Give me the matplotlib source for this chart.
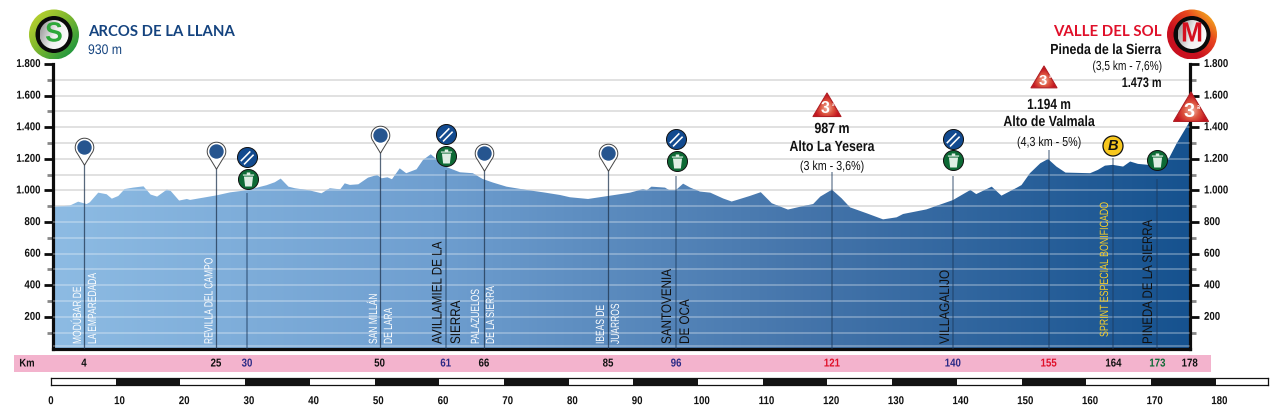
import numpy as np
import matplotlib
matplotlib.use("Agg")
import matplotlib.pyplot as plt
from matplotlib.colors import LinearSegmentedColormap as LSC
from matplotlib.patches import Circle, Polygon, Rectangle
from matplotlib.path import Path
from matplotlib.patheffects import AbstractPathEffect
from matplotlib.transforms import Affine2D

W, H = 1280, 415
BODY = ['Liberation Sans', 'DejaVu Sans']
HEAD = ['Lato', 'DejaVu Sans']
plt.rcParams['font.family'] = HEAD

# ---- data ----
profile_km = [0.3, 0.77, 2.9, 4.2, 5.5, 6.0, 7.3, 8.6, 9.4, 10.4, 11.4, 12.7, 14.3, 15.4, 16.4, 17.9, 18.5, 19.8,
              21.0, 21.5, 25.6, 27.7, 30.2, 33.3, 34.6, 35.5, 36.7, 37.7, 40.0, 41.8, 43.1, 44.7, 45.4, 46.2, 47.5,
              49.0, 50.4, 51.1, 52.0, 52.7, 53.9, 54.9, 56.5, 57.5, 58.7, 59.6, 61.2, 63.2, 65.2, 66.7, 68.3, 70.4,
              73.5, 76.1, 78.7, 80.2, 83.0, 86.1, 89.5, 91.5, 92.1, 92.8, 94.9, 95.5, 96.6, 97.7, 98.8, 100.3, 101.9,
              103.9, 105.2, 105.7, 108.0, 109.7, 111.4, 113.9, 115.8, 117.8, 118.9, 120.7, 122.2, 123.5, 126.1,
              128.6, 130.7, 131.7, 135.3, 139.4, 141.0, 142.1, 143.0, 145.4, 146.9, 149.3, 150.0, 151.3, 152.9,
              154.1, 155.4, 156.8, 160.6, 161.8, 162.9, 164.1, 165.7, 166.8, 168.0, 169.6, 171.0, 172.8, 174.0, 176.0]
profile_m = [896, 898, 904, 929, 914, 925, 986, 976, 948, 965, 1009, 1018, 1026, 974, 961, 1005, 997, 936,
             946, 940, 969, 988, 1001, 1033, 1052, 1075, 1024, 1014, 1000, 982, 1014, 1007, 1045, 1035, 1039,
             1081, 1098, 1077, 1083, 1071, 1140, 1109, 1134, 1193, 1229, 1197, 1147, 1115, 1109, 1073, 1050, 1024,
             1003, 988, 971, 957, 946, 965, 986, 1008, 1001, 1024, 1018, 1003, 1003, 1043, 1018, 993, 986,
             949, 930, 936, 965, 989, 919, 879, 897, 914, 961, 1005, 950, 893, 855,
             817, 830, 851, 880, 939, 977, 1003, 977, 1024, 967, 1018, 1034, 1109, 1172,
             1199, 1151, 1113, 1109, 1130, 1157, 1162, 1151, 1183, 1168, 1162, 1165, 1204, 1299, 1436]
y_major = [200, 400, 600, 800, 1000, 1200, 1400, 1600, 1800]
y_major_labels = ['200', '400', '600', '800', '1.000', '1.200', '1.400', '1.600', '1.800']
y_minor = [100, 300, 500, 700, 900, 1100, 1300, 1500, 1700]
pin_km = [5.1, 25.5, 50.8, 66.9, 86.1]
pin_m = [1275, 1250, 1350, 1240, 1240]
stem_km = [30.3, 61.0, 96.6, 120.7, 139.4, 154.2, 164.2, 171.0]
stem_top = [985, 1130, 1090, 1115, 1090, 1255, 1205, 1075]
food_km = [30.3, 61.0, 96.6, 139.4]
food_m = [1210, 1360, 1325, 1325]
bin_km = [30.4, 61.1, 96.7, 139.4, 171.0]
bin_m = [1070, 1215, 1185, 1190, 1190]
scale_ticks = list(range(0, 190, 10))
km_labels = ['4', '25', '30', '50', '61', '66', '85', '96', '121', '140', '155', '164', '173', '178']
km_label_pos = [5.1, 25.5, 30.3, 50.8, 61.0, 66.9, 86.1, 96.6, 120.7, 139.4, 154.2, 164.2, 171.0, 176.0]
km_colors = ['#111', '#111', '#2a2a86', '#111', '#2a2a86', '#111', '#111', '#2a2a86', '#e0102a', '#2a2a86',
             '#e0102a', '#111', '#0d6a35', '#111']
place_lines = [('MODÚBAR DE', 78, 'white', 8.6, .71), ('LA EMPAREDADA', 93, 'white', 8.6, .71),
               ('REVILLA DEL CAMPO', 209.5, 'white', 8.6, .71),
               ('SAN MILLÁN', 374, 'white', 8.6, .71), ('DE LARA', 389, 'white', 8.6, .71),
               ('AVILLAMIEL DE LA', 437.5, '#111', 10, .84), ('SIERRA', 456, '#111', 10, .84),
               ('PALAZUELOS', 476, 'white', 8.6, .71), ('DE LA SIERRA', 491, 'white', 8.6, .71),
               ('IBEAS DE', 601, 'white', 8.6, .71), ('JUARROS', 616, 'white', 8.6, .71),
               ('SANTOVENIA', 667, '#111', 10, .84), ('DE OCA', 685, '#111', 10, .84),
               ('VILLAGALIJO', 945, '#111', 10, .85),
               ('PINEDA DE LA SIERRA', 1148, '#111', 10, .83)]


class Condense(AbstractPathEffect):
    """Narrow real text along its reading direction, about its anchor."""

    def __init__(self, sx, anchor='left'):
        super().__init__()
        self.sx, self.anchor = sx, anchor

    def draw_path(self, renderer, gc, tpath, affine, rgbFace=None):
        e = tpath.get_extents()
        a = {'left': 0.0, 'center': (e.x0 + e.x1) / 2, 'right': e.x1}[self.anchor]
        t = Affine2D().translate(-a, 0).scale(self.sx, 1).translate(a, 0)
        renderer.draw_path(gc, tpath, t + affine, rgbFace)


# ---- figure and axes ----
fig = plt.figure(figsize=(W / 100, H / 100), dpi=100)
KM0, PXKM = 51.0, 6.47
LEFT, RIGHT, Y0, Y1800 = 53.0, 1190.0, 348.5, 64.0
ax = fig.add_axes([LEFT / W, 1 - Y0 / H, (RIGHT - LEFT) / W, (Y0 - Y1800) / H])
ax.set_xlim((LEFT - KM0) / PXKM, (RIGHT - KM0) / PXKM)
ax.set_ylim(0, 1800)
ax.patch.set_alpha(0)
ax.spines['top'].set_visible(False)
for s in ['left', 'right', 'bottom']:
    ax.spines[s].set_linewidth(2.3)
    ax.spines[s].set_color('#0c0c0c')
ax.set_xticks([])
ax.yaxis.set_ticks_position('both')
ax.set_yticks(y_major)
ax.set_yticks(y_minor, minor=True)
ax.tick_params(axis='y', which='major', length=6.5, width=2, color='#0c0c0c', labelleft=False, labelright=False)
ax.tick_params(axis='y', which='minor', length=4.5, width=2, color='#888888')

grid_vals = sorted(y_major[:-1] + y_minor)
ax.hlines(grid_vals, ax.get_xlim()[0], ax.get_xlim()[1], color='#dcdcdc', lw=1.2, zorder=1)

poly = ax.fill_between(profile_km, profile_m, 0, color='none', zorder=2)
clip = poly.get_paths()[0]
cmap = LSC.from_list('p', ['#8dbbe3', '#6f9fd0', '#4474aa', '#16528f'], N=256)
grad = np.linspace(0, 1, 512).reshape(1, -1)
im = ax.imshow(grad, extent=(ax.get_xlim()[0], ax.get_xlim()[1], 0, 1800), aspect='auto', cmap=cmap, zorder=2)
im.set_clip_path(clip, ax.transData)
lines = ax.hlines(grid_vals + [14], ax.get_xlim()[0], ax.get_xlim()[1], color='white', alpha=0.33, lw=1.2, zorder=3)
lines.set_clip_path(clip, ax.transData)

ax.vlines(stem_km, 0, stem_top, color='#1c3a5e', alpha=0.55, lw=1.1, zorder=4)
ax.vlines(pin_km, 0, pin_m, color='#1f3550', alpha=0.75, lw=0.9, zorder=4)

theta = np.linspace(-0.22 * np.pi, 1.22 * np.pi, 40)
tear = np.vstack([np.c_[np.cos(theta), np.sin(theta)], [[0, -1.9]], [[np.cos(theta[0]), np.sin(theta[0])]]])
tear_path = Path(tear)
ax.scatter(pin_km, pin_m, s=(1.9 * 2 * 9.3 * 0.72) ** 2, marker=tear_path, facecolor='white',
           edgecolor='#444444', lw=0.7, zorder=6, clip_on=False)
ax.scatter(pin_km, pin_m, s=(13 * 0.72) ** 2, color='#26558f', zorder=7, clip_on=False)

bin_verts = []
bin_codes = []
for rect in ([(-.8, .55), (.8, .55), (.8, .72), (-.8, .72)],
             [(-.25, .72), (.25, .72), (.25, 1), (-.25, 1)],
             [(-.65, .42), (.65, .42), (.48, -1), (-.48, -1)]):
    bin_verts += rect + [rect[0]]
    bin_codes += [Path.MOVETO, Path.LINETO, Path.LINETO, Path.LINETO, Path.CLOSEPOLY]
bin_path = Path(bin_verts, bin_codes)
food_verts = []
food_codes = []
for off in (-.26, .26):
    rect = [(-.9 + off, -.75 - off), (-.72 + off, -.93 - off), (.8 + off, .62 - off), (.62 + off, .8 - off)]
    food_verts += rect + [rect[0]]
    food_codes += [Path.MOVETO, Path.LINETO, Path.LINETO, Path.LINETO, Path.CLOSEPOLY]
food_path = Path(food_verts, food_codes)

ax.scatter(food_km, food_m, s=(20 * 0.72) ** 2, facecolor='#124a8f', edgecolor='#111', lw=0.7, zorder=7, clip_on=False)
ax.scatter(food_km, food_m, s=(15 * 0.72) ** 2, marker=food_path, color='white', zorder=8, clip_on=False, lw=0)
ax.scatter(bin_km, bin_m, s=(20 * 0.72) ** 2, facecolor='#0d6a35', edgecolor='#111', lw=0.7, zorder=7, clip_on=False)
ax.scatter(bin_km, bin_m, s=(14 * 0.72) ** 2, marker=bin_path, color='#dfeee4', zorder=8, clip_on=False, lw=0)

# ---- overlay in pixel space for the decoration ----
o = fig.add_axes([0, 0, 1, 1], zorder=10)
o.patch.set_alpha(0)
o.axis('off')


def txt(x, y, s, size=8, color='#111', ha='center', va='center', weight='normal', family=None, sx=1.0, **kw):
    t = o.text(x, y, s, fontsize=size, color=color, ha=ha, va=va, fontweight=weight,
               family=family or BODY, **kw)
    if sx != 1.0:
        anchor = 'left' if kw.get('rotation') else ha
        t.set_path_effects([Condense(sx, anchor)])
    return t


def disk(cx, cy, r, colors, angle=45, z=1):
    c = Circle((cx, cy), r, transform=o.transData, fc='none', ec='none')
    o.add_patch(c)
    n = 120
    yy, xx = np.mgrid[-1:1:n * 1j, -1:1:n * 1j]
    a = np.deg2rad(angle)
    g = (xx * np.cos(a) + yy * np.sin(a) + 1.3) / 2.6
    i = o.imshow(g, extent=(cx - r, cx + r, cy + r, cy - r), cmap=LSC.from_list('x', colors), vmin=0, vmax=1,
                 aspect='auto', zorder=z)
    i.set_clip_path(c)


for cx, outer, letter, lc in [(54.0, ['#c3d52e', '#79b52f', '#0f9142'], 'S', '#2ea83a'),
                              (1192.0, ['#f5c81e', '#e8451f', '#c9101f', '#c9101f'], 'M', '#d4101f')]:
    ang = 45 if letter == 'S' else 135
    disk(cx, 34.5, 25, outer, ang, 1)
    o.add_patch(Circle((cx, 34.5), 18.5, fc='#0a0a0a', ec='none', zorder=2))
    disk(cx, 34.5, 14.5, ['#8c8c8c', '#f0f0f0', '#ffffff'], 20, 3)
    txt(cx, 34.5, letter, 20, lc, weight='bold', zorder=4, sx=0.95)

txt(88, 32, 'ARCOS DE LA LLANA', 10.7, '#14437f', ha='left', weight='bold', family=HEAD)
txt(88, 50, '930 m', 10, '#14437f', ha='left', sx=0.88)
txt(1162, 32, 'VALLE DEL SOL', 10.8, '#e0102a', ha='right', weight='bold', family=HEAD)
txt(1162, 50, 'Pineda de la Sierra', 10.5, '#111', ha='right', weight='bold', sx=.85)
txt(1162, 67, '(3,5 km - 7,6%)', 9.4, '#111', ha='right', sx=.78)
txt(1162, 83, '1.473 m', 10, '#111', ha='right', weight='bold', sx=.78)
txt(832, 129, '987 m', 10.6, weight='bold', sx=.84)
txt(832, 147, 'Alto La Yesera', 10.6, weight='bold', sx=.84)
txt(832, 167, '(3 km - 3,6%)', 9.4, sx=.82)
txt(1049, 105, '1.194 m', 10.6, weight='bold', sx=.81)
txt(1049, 122, 'Alto de Valmala', 10.6, weight='bold', sx=.84)
txt(1049, 143, '(4,3 km - 5%)', 9.4, sx=.82)

for cx, cy, r in [(827, 107, 14), (1044, 79, 13), (1191, 109.5, 17.5)]:
    tri = Polygon([(cx - r, cy + r * .68), (cx + r, cy + r * .68), (cx, cy - r)], closed=True, fc='none',
                  ec='#b01f24', lw=0.8, joinstyle='round', zorder=6)
    o.add_patch(tri)
    yy, xx = np.mgrid[-1:1:80j, -1:1:80j]
    g = np.hypot(xx, yy - 0.1)
    i = o.imshow(g, extent=(cx - r, cx + r, cy + r, cy - r), aspect='auto', vmin=0, vmax=.9,
                 cmap=LSC.from_list('t', ['#f2b8a8', '#dd5640', '#c4141f']), zorder=5)
    i.set_clip_path(tri)
    txt(cx - r * .1, cy + r * .12, '3', r * .82, 'white', weight='bold', zorder=7)
    txt(cx + r * .43, cy - r * .02, 'ª', r * .35, 'white', weight='bold', zorder=7)

o.add_patch(Circle((1113, 146), 10, fc='#f7c71e', ec='#111', lw=0.9, zorder=8))
txt(1113, 146, 'B', 10.5, '#111', weight='bold', style='italic', zorder=9)

for s, px, c, size, sx in place_lines:
    txt(px, 344, s, size, c, va='bottom', rotation=90, zorder=6, sx=sx)
txt(1105, 337, 'SPRINT ESPECIAL BONIFICADO', 8.6, '#f7cf2a', va='bottom', rotation=90, zorder=6, sx=.74)

for val, lab in zip(y_major, y_major_labels):
    py = Y0 - val * (Y0 - Y1800) / 1800
    txt(41, py, lab, 8.2, '#111', ha='right', weight='bold', sx=.85)
    txt(1204, py, lab, 8.2, '#111', ha='left', weight='bold', sx=.85)

o.add_patch(Rectangle((14, 355), 1197, 17, fc='#f3b3cd', ec='none', zorder=1))
txt(27, 363.5, 'Km', 8, '#111', weight='bold', zorder=3, sx=.85)
for pos, lab, c in zip(km_label_pos, km_labels, km_colors):
    txt(KM0 + pos * PXKM, 363.5, lab, 8.2, c, weight='bold', zorder=3, sx=.85)

o.set_xlim(0, W)
o.set_ylim(H, 0)

# ---- bottom distance scale ----
sc = fig.add_axes([KM0 / W, 1 - 385 / H, (1268 - KM0) / W, 7 / H], zorder=5)
sc.set_xlim(0, (1268 - KM0) / PXKM)
sc.set_ylim(0, 1)
sc.set_yticks([])
for s in sc.spines.values():
    s.set_linewidth(0.9)
    s.set_color('#111')
for a, b in zip(scale_ticks, scale_ticks[1:]):
    if a % 20 == 10:
        sc.axvspan(a, b, color='#141414', lw=0)
sc.set_xticks([t + 0.6 * (t > 0) for t in scale_ticks])
sc.set_xticklabels([str(t) for t in scale_ticks], fontsize=8.2, fontweight='bold', family=BODY, color='#111')
for lbl in sc.get_xticklabels():
    lbl.set_path_effects([Condense(.85, 'center')])
sc.tick_params(axis='x', length=0, pad=8)

fig.savefig('out.png', dpi=100)
